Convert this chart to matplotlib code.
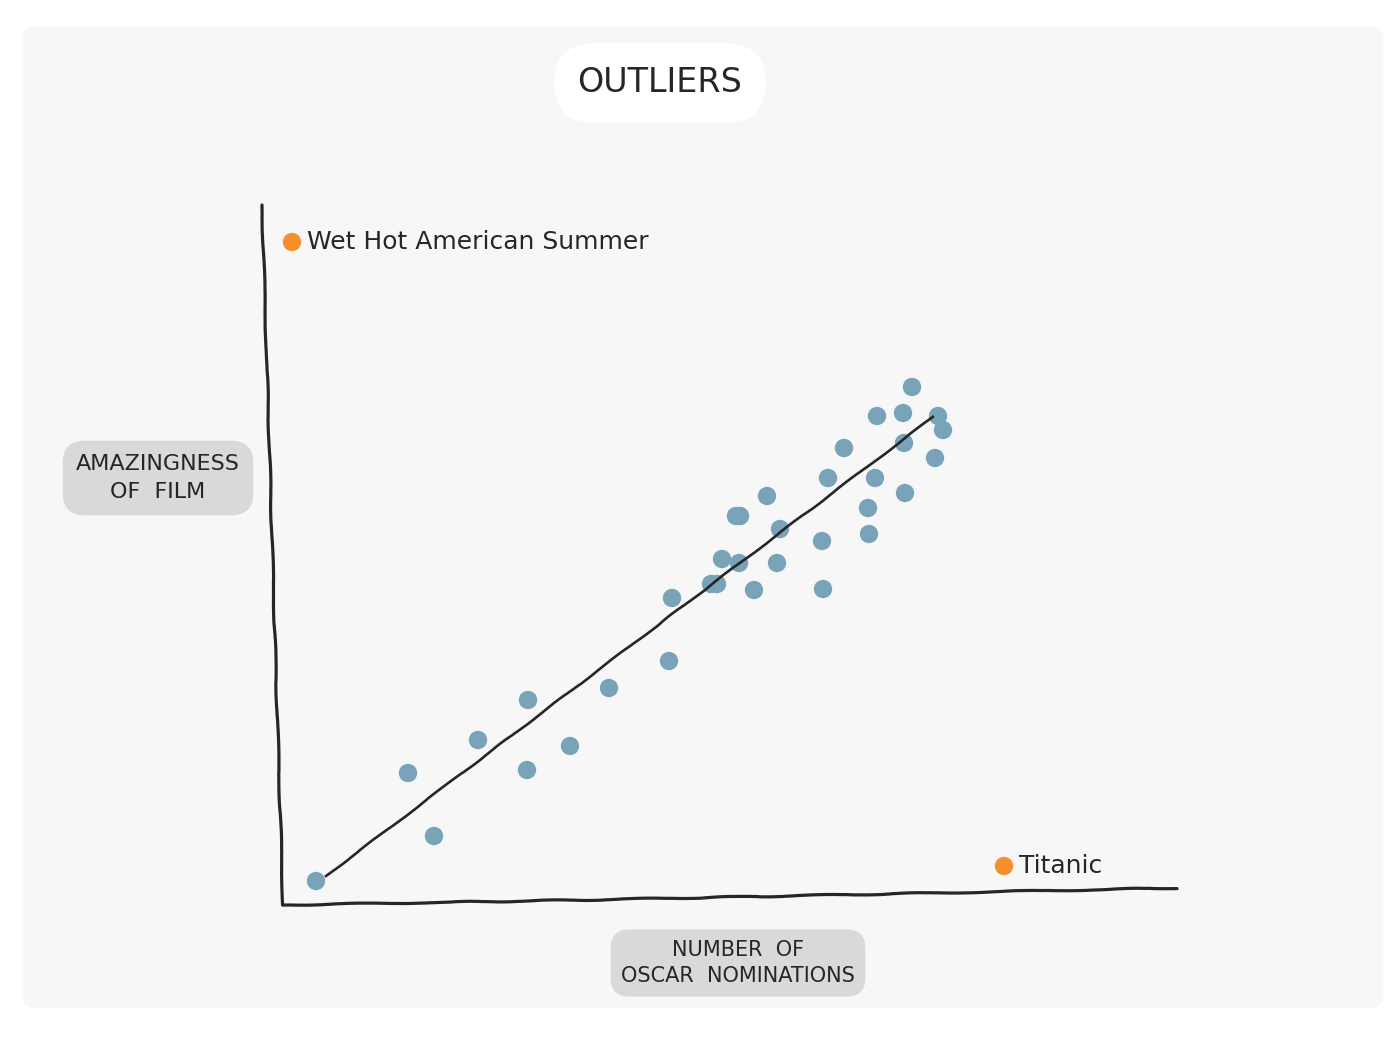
import numpy as np
import matplotlib
matplotlib.use('Agg')
import matplotlib.pyplot as plt
from matplotlib.patches import FancyBboxPatch

# amazingness vs oscar nominations (arbitrary units)
noms = [33, 125, 151, 195, 245, 244, 287, 326, 386, 389, 428, 434, 439, 456,
        453, 457, 471, 484, 497, 494, 539, 540, 545, 561, 585, 586, 592, 594,
        620, 621, 622, 629, 655, 660, 652]
amaz = [24, 132, 69, 165, 205, 135, 159, 217, 244, 307, 321, 321, 346, 342,
        389, 389, 315, 409, 376, 342, 364, 316, 427, 457, 397, 371, 427, 489,
        492, 462, 412, 518, 489, 475, 447]

# the two outliers
out_names = ['Wet Hot American Summer', 'Titanic']
out_noms = [9, 721]
out_amaz = [663, 39]

# hand drawn trend line ends
trend_x = [43, 650]
trend_y = [29, 488]

ink = '#262626'
blue = '#79a3b8'
orange = '#f7902c'

fig = plt.figure(figsize=(14, 10.5), dpi=100)
fig.patch.set_facecolor('white')

# the grey paper
fig.patches.append(FancyBboxPatch((0.016, 0.04), 0.972, 0.935,
                                  boxstyle='round,pad=0,rounding_size=0.01',
                                  transform=fig.transFigure, facecolor='#f7f7f7',
                                  edgecolor='none', zorder=-5))

ax = fig.add_axes([283 / 1400, 1 - 905 / 1050, 894 / 1400, 700 / 1050])
ax.set_xlim(0, 894)
ax.set_ylim(0, 700)
ax.axis('off')
ax.set_zorder(2)

# wobbly axes
yax, = ax.plot([-21, -14, -7, 0], [700, 470, 230, 0], color=ink, lw=2.3,
               clip_on=False, solid_capstyle='round')
xax, = ax.plot([0, 300, 600, 894], [0, 5, 11, 17], color=ink, lw=2.3,
               clip_on=False, solid_capstyle='round')
for l in (yax, xax):
    l.set_sketch_params(scale=0.6, length=150, randomness=5)

ax.scatter(noms, amaz, s=175, color=blue, edgecolors='none', zorder=3)
tl, = ax.plot(trend_x, trend_y, color=ink, lw=1.9, zorder=4)
tl.set_sketch_params(scale=0.5, length=120, randomness=5)

ax.scatter(out_noms, out_amaz, s=175, color=orange, edgecolors='none',
           zorder=3, clip_on=False)
for n, x, y in zip(out_names, out_noms, out_amaz):
    ax.annotate(n, (x, y), xytext=(11, 0), textcoords='offset points',
                va='center', ha='left', fontsize=18, color=ink)

# title and axis labels in their blobs
fig.text(660 / 1400, 1 - 83 / 1050, 'OUTLIERS', ha='center', va='center',
         fontsize=24, color=ink,
         bbox=dict(boxstyle='round,pad=0.7,rounding_size=1.2', facecolor='white',
                   edgecolor='none'))
fig.text(158 / 1400, 1 - 478 / 1050, 'AMAZINGNESS\nOF  FILM', ha='center',
         va='center', fontsize=16, color=ink, linespacing=1.5,
         bbox=dict(boxstyle='round,pad=0.6,rounding_size=1.0', facecolor='#d9d9d9',
                   edgecolor='none'))
fig.text(738 / 1400, 1 - 963 / 1050, 'NUMBER  OF\nOSCAR  NOMINATIONS',
         ha='center', va='center', fontsize=15, color=ink, linespacing=1.4,
         bbox=dict(boxstyle='round,pad=0.5,rounding_size=0.9', facecolor='#d9d9d9',
                   edgecolor='none'))

fig.savefig('out.png', dpi=100, facecolor='white')
